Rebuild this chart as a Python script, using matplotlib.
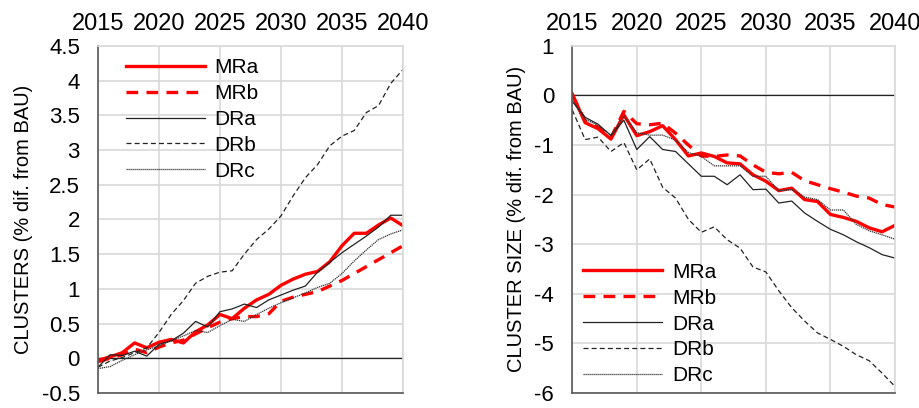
import numpy as np
import matplotlib
matplotlib.use("Agg")
import matplotlib.pyplot as plt

plt.rcParams['font.family'] = ['Liberation Sans', 'DejaVu Sans']
plt.rcParams['axes.unicode_minus'] = False

years = np.arange(2015, 2041)

# CLUSTERS (% dif. from BAU)
clu_mra = [-0.03, 0.02, 0.08, 0.22, 0.15, 0.23, 0.27, 0.22, 0.38, 0.48, 0.63, 0.57, 0.72, 0.84, 0.92,
           1.05, 1.14, 1.21, 1.25, 1.39, 1.62, 1.80, 1.80, 1.92, 2.02, 1.91]
clu_mrb = [-0.05, 0.0, 0.05, 0.13, 0.08, 0.16, 0.22, 0.26, 0.35, 0.44, 0.52, 0.57, 0.60, 0.60, 0.64,
           0.82, 0.88, 0.92, 0.96, 1.04, 1.12, 1.22, 1.32, 1.42, 1.52, 1.62]
clu_dra = [-0.13, 0.05, 0.04, 0.10, 0.03, 0.20, 0.25, 0.36, 0.53, 0.45, 0.67, 0.71, 0.78, 0.73, 0.84,
           0.91, 0.98, 1.04, 1.24, 1.38, 1.52, 1.64, 1.76, 1.89, 2.06, 2.06]
clu_drb = [-0.13, -0.04, 0.01, 0.08, 0.15, 0.37, 0.63, 0.83, 1.08, 1.18, 1.24, 1.26, 1.50, 1.71, 1.86,
           2.05, 2.34, 2.60, 2.79, 3.06, 3.20, 3.28, 3.54, 3.64, 3.96, 4.16]
clu_drc = [-0.15, -0.12, -0.03, 0.05, 0.12, 0.18, 0.25, 0.32, 0.40, 0.37, 0.47, 0.56, 0.53, 0.63, 0.72,
           0.80, 0.87, 0.94, 1.02, 1.08, 1.22, 1.40, 1.56, 1.71, 1.79, 1.85]

# CLUSTER SIZE (% dif. from BAU)
siz_mra = [0.03, -0.55, -0.67, -0.88, -0.39, -0.81, -0.73, -0.61, -0.89, -1.22, -1.16, -1.23, -1.36,
           -1.38, -1.60, -1.73, -1.92, -1.87, -2.10, -2.14, -2.40, -2.46, -2.54, -2.67, -2.75, -2.62]
siz_mrb = [0.02, -0.52, -0.64, -0.85, -0.32, -0.57, -0.59, -0.56, -0.76, -1.0, -1.22, -1.23, -1.20,
           -1.22, -1.40, -1.55, -1.58, -1.55, -1.72, -1.80, -1.88, -1.95, -2.03, -2.07, -2.20, -2.25]
siz_dra = [-0.12, -0.44, -0.58, -0.81, -0.50, -1.09, -0.83, -1.09, -1.13, -1.38, -1.63, -1.63, -1.80,
           -1.60, -1.90, -1.89, -2.17, -2.13, -2.37, -2.54, -2.70, -2.81, -2.95, -3.07, -3.21, -3.28]
siz_drb = [-0.29, -0.89, -0.84, -1.13, -0.95, -1.50, -1.28, -1.85, -2.07, -2.50, -2.76, -2.65, -2.91,
           -3.08, -3.46, -3.56, -3.94, -4.28, -4.55, -4.79, -4.92, -5.06, -5.23, -5.35, -5.60, -5.87]
siz_drc = [-0.10, -0.48, -0.60, -0.80, -0.42, -0.75, -0.80, -0.80, -0.90, -1.15, -1.23, -1.42, -1.42,
           -1.42, -1.63, -1.63, -1.92, -1.90, -2.05, -2.10, -2.31, -2.31, -2.60, -2.73, -2.81, -2.90]

labels = ['MRa', 'MRb', 'DRa', 'DRb', 'DRc']
styles = [dict(color='#ff0000', lw=2.4, ls='-'),
          dict(color='#ff0000', lw=2.4, ls=(0, (3.5, 2.5))),
          dict(color='#222222', lw=0.9, ls='-'),
          dict(color='#222222', lw=0.9, ls=(0, (4, 2.5))),
          dict(color='#333333', lw=0.9, ls=(0, (1, 0.6)))]


def draw_panel(ax, series, ylim, yticks, ylabel, legend_loc, legend_anchor):
    for y, lab, st in zip(series, labels, styles):
        ax.plot(years, y, label=lab, **st)
    ax.axhline(0, color='#222222', lw=0.9, zorder=1)
    ax.set_xlim(2015, 2040)
    ax.set_ylim(*ylim)
    ax.set_xticks(np.arange(2015, 2041, 5))
    ax.set_yticks(yticks)
    ax.set_yticklabels(['%g' % t for t in yticks])
    ax.xaxis.tick_top()
    ax.tick_params(axis='x', length=0, pad=8, labelsize=17)
    ax.tick_params(axis='y', length=0, pad=13, labelsize=16)
    ax.grid(True, color='#d9d9d9', lw=1.2)
    ax.set_axisbelow(True)
    for s in ['left', 'bottom']:
        ax.spines[s].set_color('#595959')
        ax.spines[s].set_linewidth(1.2)
    for s in ['top', 'right']:
        ax.spines[s].set_color('#d9d9d9')
        ax.spines[s].set_linewidth(1.2)
    ax.set_ylabel(ylabel, fontsize=14.5, labelpad=6)
    ax.legend(loc=legend_loc, bbox_to_anchor=legend_anchor, frameon=False, fontsize=15,
              handlelength=3.8, handletextpad=0.45, labelspacing=0.33,
              borderpad=0, borderaxespad=0)


fig = plt.figure(figsize=(9.2, 4.08), dpi=100)
ax1 = fig.add_axes([0.1065, 0.037, 0.3315, 0.8505])
ax2 = fig.add_axes([0.622, 0.037, 0.3508, 0.8505])

draw_panel(ax1, [clu_mra, clu_mrb, clu_dra, clu_drb, clu_drc], (-0.5, 4.5),
           np.arange(-0.5, 4.51, 0.5), 'CLUSTERS (% dif. from BAU)',
           'upper left', (0.092, 0.965))
draw_panel(ax2, [siz_mra, siz_mrb, siz_dra, siz_drb, siz_drc], (-6, 1),
           np.arange(-6, 1.01, 1), 'CLUSTER SIZE (% dif. from BAU)',
           'lower left', (0.034, 0.022))

fig.savefig('out.png', dpi=100)
